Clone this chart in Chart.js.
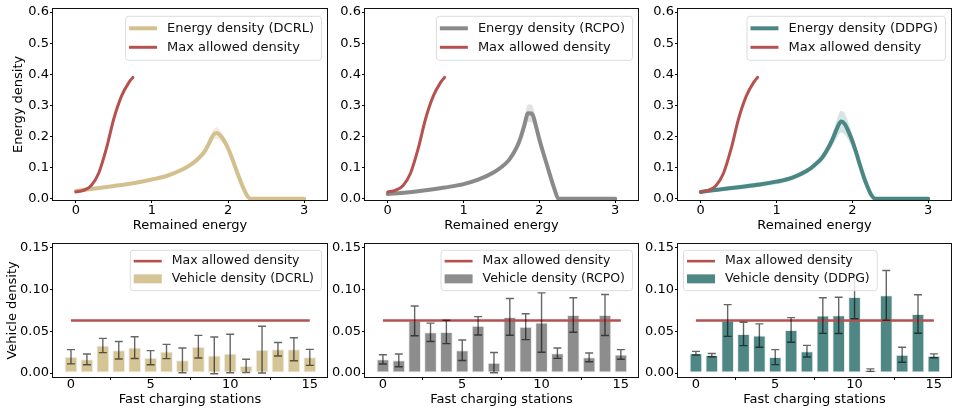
<!DOCTYPE html>
<html>
<head>
<meta charset="utf-8">
<script src="https://cdn.jsdelivr.net/npm/chart.js@4.4.0/dist/chart.umd.min.js"></script>
<style>
  body { margin: 0; background: #fff; }
  #fig { position: relative; width: 953px; height: 408px; overflow: hidden; }
  canvas { position: absolute; }
</style>
</head>
<body>
<div id="fig">
  <canvas id="energy-dcrl" width="329" height="235" style="left:0px;top:0px"></canvas>
  <canvas id="energy-rcpo" width="328" height="235" style="left:312px;top:0px"></canvas>
  <canvas id="energy-ddpg" width="328" height="235" style="left:625px;top:0px"></canvas>
  <canvas id="vehicle-dcrl" width="329" height="173" style="left:0px;top:235px"></canvas>
  <canvas id="vehicle-rcpo" width="328" height="173" style="left:312px;top:235px"></canvas>
  <canvas id="vehicle-ddpg" width="328" height="173" style="left:625px;top:235px"></canvas>
</div>
<script>
// remained energy grid (x) and the energy density curves
var energyX = [0, 0.25, 0.5, 0.75, 1.0, 1.2, 1.4, 1.5, 1.6, 1.7, 1.75, 1.8, 1.85, 1.9, 1.95, 2.0, 2.05, 2.1, 2.15, 2.2, 2.25, 2.3, 2.5, 3.0];
var energyDCRL = [0.025, 0.033, 0.041, 0.050, 0.062, 0.074, 0.094, 0.108, 0.127, 0.155, 0.178, 0.203, 0.211, 0.203, 0.186, 0.162, 0.132, 0.098, 0.065, 0.035, 0.010, 0.0, 0.0, 0.0];
var spreadDCRL = [0.002, 0.003, 0.004, 0.004, 0.005, 0.005, 0.006, 0.006, 0.008, 0.010, 0.012, 0.016, 0.019, 0.017, 0.013, 0.010, 0.008, 0.006, 0.005, 0.004, 0.002, 0, 0, 0];
var energyRCPO = [0.015, 0.020, 0.027, 0.036, 0.047, 0.062, 0.085, 0.102, 0.125, 0.165, 0.195, 0.235, 0.275, 0.274, 0.238, 0.190, 0.148, 0.108, 0.068, 0.030, 0.0, 0.0, 0.0, 0.0];
var spreadRCPO = [0.003, 0.003, 0.004, 0.004, 0.005, 0.005, 0.006, 0.006, 0.008, 0.012, 0.016, 0.022, 0.028, 0.028, 0.022, 0.015, 0.010, 0.007, 0.005, 0.004, 0.001, 0, 0, 0];
var energyDDPG = [0.022, 0.030, 0.037, 0.045, 0.055, 0.067, 0.090, 0.108, 0.132, 0.172, 0.198, 0.228, 0.248, 0.240, 0.215, 0.185, 0.148, 0.108, 0.070, 0.038, 0.012, 0.0, 0.0, 0.0];
var spreadDDPG = [0.004, 0.006, 0.007, 0.008, 0.008, 0.008, 0.008, 0.008, 0.010, 0.015, 0.022, 0.030, 0.035, 0.034, 0.028, 0.020, 0.014, 0.009, 0.006, 0.004, 0.002, 0, 0, 0];

// max allowed energy density
var maxEnergyX = [0, 0.1, 0.2, 0.3, 0.4, 0.5, 0.6, 0.7, 0.75];
var maxEnergyY = [0.022, 0.027, 0.042, 0.082, 0.160, 0.258, 0.330, 0.375, 0.390];

// fast charging stations
var stations = [0, 1, 2, 3, 4, 5, 6, 7, 8, 9, 10, 11, 12, 13, 14, 15];
var vehicleDCRL = [0.0195, 0.0164, 0.0330, 0.0273, 0.0305, 0.0184, 0.0258, 0.0152, 0.0316, 0.0211, 0.0234, 0.0086, 0.0280, 0.0285, 0.0285, 0.0188];
var errDCRL = [0.0085, 0.0065, 0.0085, 0.0105, 0.0130, 0.0085, 0.0085, 0.0148, 0.0135, 0.0220, 0.0230, 0.0080, 0.0280, 0.0080, 0.0138, 0.0096];
var vehicleRCPO = [0.0164, 0.0152, 0.0625, 0.0488, 0.0492, 0.0273, 0.0566, 0.0125, 0.0672, 0.0555, 0.0605, 0.0238, 0.0695, 0.0188, 0.0695, 0.0223];
var errRCPO = [0.0055, 0.0076, 0.0178, 0.0110, 0.0140, 0.0122, 0.0110, 0.0122, 0.0220, 0.0155, 0.0355, 0.0062, 0.0207, 0.0053, 0.0246, 0.0058];
var vehicleDDPG = [0.0238, 0.0215, 0.0629, 0.0469, 0.0449, 0.0191, 0.0516, 0.0262, 0.0688, 0.0691, 0.0910, 0.0035, 0.0930, 0.0219, 0.0707, 0.0207];
var errDDPG = [0.0022, 0.0020, 0.0190, 0.0140, 0.0140, 0.0090, 0.0147, 0.0070, 0.0213, 0.0217, 0.0260, 0.0015, 0.0297, 0.0090, 0.0230, 0.0023];
var maxVehicle = [0.063, 0.063, 0.063, 0.063, 0.063, 0.063, 0.063, 0.063, 0.063, 0.063, 0.063, 0.063, 0.063, 0.063, 0.063, 0.063];

// tick labels
var energyTicksX = [0, 1, 2, 3];
var energyTicksY = [0, 0.1, 0.2, 0.3, 0.4, 0.5, 0.6];
var stationTicksX = [0, 5, 10, 15];
var vehicleTicksY = [0, 0.05, 0.10, 0.15];

var RED = "#b5514f";

Chart.defaults.font.family = '"DejaVu Sans", sans-serif';
Chart.defaults.font.size = 13;
Chart.defaults.color = "#000";

function pts(xs, ys) {
  return ys.map(function (y, i) { return { x: xs[i], y: y }; });
}

// black box round the plot area
var frame = {
  id: "frame",
  afterDraw: function (chart) {
    var a = chart.chartArea, ctx = chart.ctx;
    ctx.save();
    ctx.strokeStyle = "#111";
    ctx.lineWidth = 1;
    ctx.strokeRect(Math.round(a.left) - 0.5, Math.round(a.top) - 0.5, Math.round(a.right - a.left) + 1, Math.round(a.bottom - a.top) + 1);
    ctx.restore();
  }
};

// error bars on the bar datasets
var errorBars = {
  id: "errorBars",
  afterDatasetsDraw: function (chart) {
    var ctx = chart.ctx, ys = chart.scales.y, a = chart.chartArea;
    chart.data.datasets.forEach(function (ds, i) {
      if (!ds.errors) return;
      var meta = chart.getDatasetMeta(i);
      ctx.save();
      ctx.beginPath();
      ctx.rect(a.left, a.top, a.right - a.left, a.bottom - a.top);
      ctx.clip();
      ctx.strokeStyle = "rgba(0,0,0,0.6)";
      ctx.lineWidth = 1.4;
      meta.data.forEach(function (bar, j) {
        var v = ds.data[j].y, e = ds.errors[j];
        var t = ys.getPixelForValue(v + e), b = ys.getPixelForValue(v - e);
        ctx.beginPath();
        ctx.moveTo(bar.x, t); ctx.lineTo(bar.x, b);
        ctx.moveTo(bar.x - 4, t); ctx.lineTo(bar.x + 4, t);
        ctx.moveTo(bar.x - 4, b); ctx.lineTo(bar.x + 4, b);
        ctx.stroke();
      });
      ctx.restore();
    });
  }
};

// matplotlib style legend box inside the axes
var boxLegend = {
  id: "boxLegend",
  afterDraw: function (chart, args, o) {
    if (!o.items) return;
    var ctx = chart.ctx, a = chart.chartArea;
    ctx.save();
    ctx.font = o.size + 'px "DejaVu Sans"';
    var tw = 0;
    o.items.forEach(function (it) { tw = Math.max(tw, ctx.measureText(it.label).width); });
    var w = 4 + 28 + 10 + tw + 7;
    var h = o.rowH * o.items.length + o.pad;
    var x = o.side === "left" ? a.left + 5 : a.right - 6 - w;
    var y = a.top + o.top;
    ctx.beginPath();
    ctx.roundRect(x + 0.5, y + 0.5, w, h, 3);
    ctx.fillStyle = "rgba(255,255,255,0.8)";
    ctx.fill();
    ctx.strokeStyle = "#dcdcdc";
    ctx.lineWidth = 1;
    ctx.stroke();
    o.items.forEach(function (it, i) {
      var cy = y + o.pad / 2 + o.rowH * (i + 0.5);
      if (it.kind === "box") {
        ctx.fillStyle = it.color;
        ctx.fillRect(x + 4, cy - 4.5, 28, 9);
      } else {
        ctx.strokeStyle = it.color;
        ctx.lineWidth = it.lw;
        ctx.beginPath();
        ctx.moveTo(x + 4, cy); ctx.lineTo(x + 32, cy);
        ctx.stroke();
      }
      ctx.fillStyle = "#111";
      ctx.textBaseline = "middle";
      ctx.fillText(it.label, x + 42, cy);
    });
    ctx.restore();
  }
};

function scales(o) {
  return {
    x: {
      type: "linear", min: o.xMin, max: o.xMax, offset: false,
      afterBuildTicks: function (s) { s.ticks = o.xTicks.map(function (v) { return { value: v }; }); },
      afterFit: function (s) { s.height = o.xH; },
      grid: { drawOnChartArea: false, tickLength: 3, color: "#000" },
      border: { display: false },
      ticks: { autoSkip: false, maxRotation: 0, padding: o.xPad, callback: function (v) { return String(v); } },
      title: { display: true, text: o.xTitle, padding: { top: 0, bottom: o.xTitlePad } }
    },
    y: {
      min: o.yMin, max: o.yMax,
      afterBuildTicks: function (s) { s.ticks = o.yTicks.map(function (v) { return { value: v }; }); },
      afterFit: function (s) { s.width = 53; },
      grid: { drawOnChartArea: false, tickLength: 3, color: "#000" },
      border: { display: false },
      ticks: { autoSkip: false, padding: 1, callback: function (v) { return v.toFixed(o.yDec); } },
      title: { display: !!o.yTitle, text: o.yTitle || "", padding: { top: o.yTitlePad, bottom: 0 } }
    }
  };
}

function energyChart(id, name, mean, spread, color, band, yTitle) {
  var upper = mean.map(function (v, i) { return v + spread[i]; });
  var lower = mean.map(function (v, i) { return v - spread[i]; });
  var line = { pointRadius: 0, cubicInterpolationMode: "monotone", clip: false, borderJoinStyle: "round", borderCapStyle: "round" };
  new Chart(document.getElementById(id), {
    type: "line",
    data: {
      datasets: [
        Object.assign({ label: "Max allowed density", data: pts(maxEnergyX, maxEnergyY), borderColor: RED, borderWidth: 3, fill: false }, line),
        Object.assign({ label: "Energy density (" + name + ")", data: pts(energyX, mean), borderColor: color, borderWidth: 4, fill: false }, line),
        Object.assign({ label: "upper", data: pts(energyX, upper), borderWidth: 0, backgroundColor: band, fill: "+1" }, line),
        Object.assign({ label: "lower", data: pts(energyX, lower), borderWidth: 0, fill: false }, line)
      ]
    },
    options: {
      responsive: false, animation: false,
      layout: { padding: { top: 6, right: 2, left: 0, bottom: 0 } },
      scales: scales({
        xMin: -0.3, xMax: 3.3, xTicks: energyTicksX, xH: 35, xPad: 0, xTitle: "Remained energy", xTitlePad: 1.5,
        yMin: -0.004, yMax: 0.6105, yTicks: energyTicksY, yDec: 1, yTitle: yTitle, yTitlePad: 11
      }),
      plugins: {
        legend: { display: false },
        tooltip: { enabled: false },
        boxLegend: {
          side: "right", size: 13, rowH: 19, pad: 6, top: 7,
          items: [
            { label: "Energy density (" + name + ")", color: color, lw: 4 },
            { label: "Max allowed density", color: RED, lw: 3 }
          ]
        }
      }
    },
    plugins: [frame, boxLegend]
  });
}

function vehicleChart(id, name, vals, errs, color, side, yTitle) {
  new Chart(document.getElementById(id), {
    type: "bar",
    data: {
      datasets: [
        { type: "line", label: "Max allowed density", data: pts(stations, maxVehicle), borderColor: RED, borderWidth: 2.6, pointRadius: 0, fill: false },
        { label: "Vehicle density (" + name + ")", data: pts(stations, vals), errors: errs,
          backgroundColor: color, borderColor: "rgba(235,235,235,0.9)", borderWidth: 1, borderSkipped: false,
          barPercentage: 1.0, categoryPercentage: 0.8 }
      ]
    },
    options: {
      responsive: false, animation: false,
      layout: { padding: { top: 5, right: 2, left: 0, bottom: 0 } },
      scales: scales({
        xMin: -1.13, xMax: 16.08, xTicks: stationTicksX, xH: 31, xPad: -3, xTitle: "Fast charging stations", xTitlePad: 0.3,
        yMin: -0.0047, yMax: 0.1547, yTicks: vehicleTicksY, yDec: 2, yTitle: yTitle, yTitlePad: 4.7
      }),
      plugins: {
        legend: { display: false },
        tooltip: { enabled: false },
        boxLegend: {
          side: side, size: 12.5, rowH: 17.7, pad: 5, top: 6,
          items: [
            { label: "Max allowed density", color: RED, lw: 2.6 },
            { label: "Vehicle density (" + name + ")", color: color, kind: "box" }
          ]
        }
      }
    },
    plugins: [frame, errorBars, boxLegend]
  });
}

energyChart("energy-dcrl", "DCRL", energyDCRL, spreadDCRL, "#d4c08e", "rgba(212,192,142,0.28)", "Energy density");
energyChart("energy-rcpo", "RCPO", energyRCPO, spreadRCPO, "#8a8a8a", "rgba(138,138,138,0.25)", null);
energyChart("energy-ddpg", "DDPG", energyDDPG, spreadDDPG, "#4a8683", "rgba(74,134,131,0.22)", null);

vehicleChart("vehicle-dcrl", "DCRL", vehicleDCRL, errDCRL, "#d5c596", "right", "Vehicle density");
vehicleChart("vehicle-rcpo", "RCPO", vehicleRCPO, errRCPO, "#8d8d8d", "right", null);
vehicleChart("vehicle-ddpg", "DDPG", vehicleDDPG, errDDPG, "#4f8785", "left", null);
</script>
</body>
</html>
